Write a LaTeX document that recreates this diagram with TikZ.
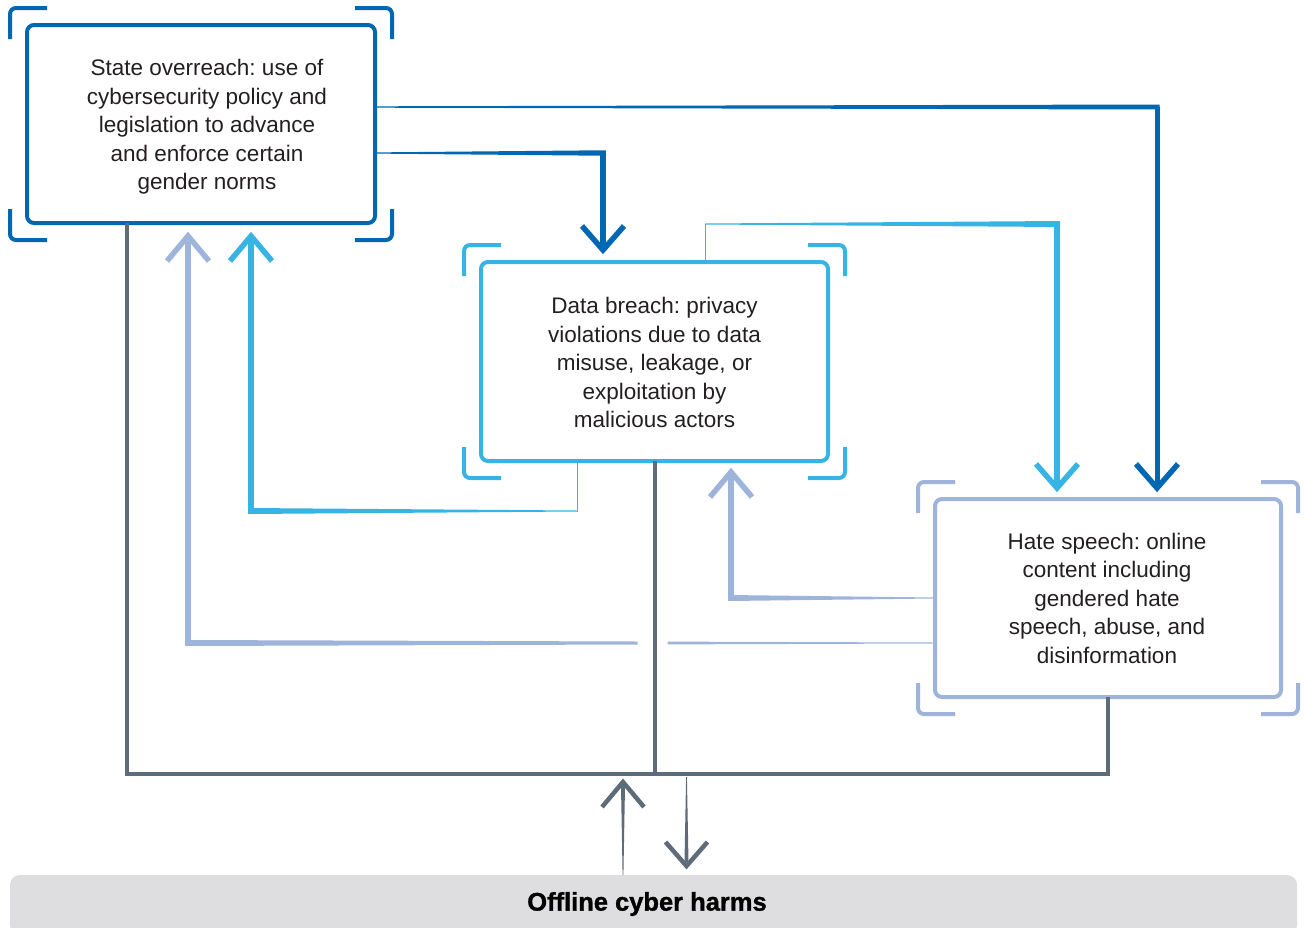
\documentclass[tikz,border=0pt]{standalone}
\usepackage{fontspec}
\setmainfont{Liberation Sans}
\newfontfamily\barfont{Liberation Sans}[BoldFeatures={FakeBold=1.2}]
\usetikzlibrary{calc}
\definecolor{dblue}{HTML}{0068B2}
\definecolor{lblue}{HTML}{38B4E4}
\definecolor{peri}{HTML}{9EB4DA}
\definecolor{slate}{HTML}{5E6B78}
\definecolor{barg}{HTML}{DEDEE0}
\definecolor{ink}{HTML}{231F20}
\frenchspacing
% tapered straight segment: colour, from, to, half width at from, half width at to
\newcommand\taper[5]{\fill[#1] ($(#2)!#4!90:(#3)$) -- ($(#2)!#4!-90:(#3)$) -- ($(#3)!#5!90:(#2)$) -- ($(#3)!#5!-90:(#2)$) -- cycle;}
\newcommand\chevD[3]{\draw[chev,#1,line width=#3] ($(#2)+(-21,-24)$) -- (#2) -- ($(#2)+(21,-24)$);}
\newcommand\chevU[3]{\draw[chev,#1,line width=#3] ($(#2)+(-21,25)$) -- (#2) -- ($(#2)+(21,25)$);}
\newcommand\brackets[2]{%
 \draw[brk,#2] ($(#1.north west)+(-17,14)$) -- ($(#1.north west)+(-17,-17)$) -- ($(#1.north west)+(20,-17)$);
 \draw[brk,#2] ($(#1.north east)+(-20,-17)$) -- ($(#1.north east)+(17,-17)$) -- ($(#1.north east)+(17,14)$);
 \draw[brk,#2] ($(#1.south west)+(-17,-14)$) -- ($(#1.south west)+(-17,17)$) -- ($(#1.south west)+(20,17)$);
 \draw[brk,#2] ($(#1.south east)+(-20,17)$) -- ($(#1.south east)+(17,17)$) -- ($(#1.south east)+(17,-14)$);}
\begin{document}
\begin{tikzpicture}[x=1pt,y=-1pt,
  cbox/.style={draw, rectangle, line width=4pt, rounded corners=7pt, inner sep=0pt, outer sep=0pt},
  txt/.style={align=center, font=\fontsize{22.5}{28.5}\selectfont\frenchspacing, text=ink, inner sep=0pt},
  brk/.style={line width=4pt, rounded corners=6pt},
  chev/.style={line join=miter, miter limit=10},
  tree/.style={slate, line width=4pt, line join=miter}]
\useasboundingbox (0,0) rectangle (1304,927);
\clip (0,0) rectangle (1304,927);

% boxes
\node[cbox, draw=dblue, minimum width=348pt, minimum height=198pt] (st) at (201,124) {};
\node[txt] (stT) at (207,127) {State overreach: use of\\cybersecurity policy and\\legislation to advance\\and enforce certain\\gender norms};
\brackets{st}{dblue}

\node[cbox, draw=lblue, minimum width=347pt, minimum height=199pt] (db) at (654.5,361.5) {};
\node[txt] (dbT) at (654.5,362.5) {Data breach: privacy\\violations due to data\\misuse, leakage, or\\exploitation by\\malicious actors};
\brackets{db}{lblue}

\node[cbox, draw=peri, minimum width=346pt, minimum height=198pt] (hs) at (1108,598) {};
\node[txt] (hsT) at (1107,598) {Hate speech: online\\content including\\gendered hate\\speech, abuse, and\\disinformation};
\brackets{hs}{peri}

\node[fill=barg, rounded corners=10pt, minimum width=1287pt, minimum height=60pt, inner sep=0pt, outer sep=0pt] (bar) at (653.5,905) {};
\node[font=\fontsize{25.5}{30}\barfont\bfseries, text=black, inner sep=0pt] (barT) at (647,904) {Offline cyber harms};

% grey tree
\coordinate (s0) at ($(st.south)+(-74,0)$);
\coordinate (s1) at ($(s0)+(0,551)$);
\coordinate (s2) at (hs.south |- s1);
\coordinate (sm) at (db.south |- s1);
\draw[tree] (s0) -- (s1) -- (s2) -- (hs.south);
\draw[tree] (db.south) -- (sm);

% A: state -> hate
\coordinate (a0) at ($(st.east)+(0,-17)$);
\coordinate (aT) at ($(hs.north)+(49,-11)$);
\coordinate (a1) at (aT |- a0);
\coordinate (a1x) at ($(a1)!-2.5pt!(a0)$);
\coordinate (aTs) at ($(aT)!4pt!(a1)$);
\taper{dblue}{a0}{a1x}{0.7pt}{2.5pt}
\draw[dblue, line width=5pt] (a1) -- (aTs);
\chevD{dblue}{aT}{5.5pt}

% B: state -> data
\coordinate (b0) at ($(st.east)+(0,29)$);
\coordinate (bT) at ($(db.north)+(-51.5,-12)$);
\coordinate (b1) at (bT |- b0);
\coordinate (b1x) at ($(b1)!-2.75pt!(b0)$);
\coordinate (bTs) at ($(bT)!4pt!(b1)$);
\taper{dblue}{b0}{b1x}{0.6pt}{2.75pt}
\draw[dblue, line width=5.5pt] (b1) -- (bTs);
\chevD{dblue}{bT}{5.5pt}

% C: data -> hate
\coordinate (c0) at ($(db.north)+(50.5,0)$);
\coordinate (c1) at ($(c0)+(0,-38)$);
\coordinate (cT) at ($(hs.north)+(-51,-11)$);
\coordinate (c2) at (cT |- c1);
\coordinate (c2x) at ($(c2)!-3pt!(c1)$);
\coordinate (cTs) at ($(cT)!4pt!(c2)$);
\draw[lblue, line width=1pt, line cap=rect] (c0) -- (c1);
\taper{lblue}{c1}{c2x}{0.5pt}{3pt}
\draw[lblue, line width=6pt] (c2) -- (cTs);
\chevD{lblue}{cT}{5.5pt}

% D: data -> state
\coordinate (d0) at ($(db.south)+(-77.5,0)$);
\coordinate (d1) at ($(d0)+(0,50)$);
\coordinate (dT) at ($(st.south)+(50,13)$);
\coordinate (d2) at (dT |- d1);
\coordinate (d2x) at ($(d2)!-3pt!(d1)$);
\coordinate (dTs) at ($(dT)!4pt!(d2)$);
\draw[lblue, line width=1pt, line cap=rect] (d0) -- (d1);
\taper{lblue}{d1}{d2x}{0.5pt}{3pt}
\draw[lblue, line width=6pt] (d2) -- (dTs);
\chevU{lblue}{dT}{5.5pt}

% E: hate -> state (gap at grey line)
\coordinate (e0) at ($(hs.west)+(0,45)$);
\coordinate (eT) at ($(st.south)+(-13,13)$);
\coordinate (e1) at (eT |- e0);
\coordinate (e1x) at ($(e1)!-3pt!(e0)$);
\coordinate (em) at (db.south |- e0);
\coordinate (ga) at ($(em)+(13,0)$);
\coordinate (gb) at ($(em)+(-17,0)$);
\coordinate (eTs) at ($(eT)!4pt!(e1)$);
\taper{peri}{e0}{ga}{0.5pt}{1.4pt}
\taper{peri}{gb}{e1x}{1.5pt}{3pt}
\draw[peri, line width=6pt] (e1) -- (eTs);
\chevU{peri}{eT}{5.5pt}

% F: hate -> data
\coordinate (f0) at (hs.west);
\coordinate (fT) at ($(db.south)+(76.5,11)$);
\coordinate (f1) at (fT |- f0);
\coordinate (f1x) at ($(f1)!-3pt!(f0)$);
\coordinate (fTs) at ($(fT)!4pt!(f1)$);
\taper{peri}{f0}{f1x}{0.5pt}{3pt}
\draw[peri, line width=6pt] (f1) -- (fTs);
\chevU{peri}{fT}{5.5pt}

% grey arrows to/from offline harms
\coordinate (u0) at ($(bar.north)+(-30.5,0)$);
\coordinate (uT) at ($(s1 -| u0)+(0,8)$);
\coordinate (uTs) at ($(uT)!4pt!(u0)$);
\taper{slate}{u0}{uTs}{0.4pt}{2pt}
\chevU{slate}{uT}{4.5pt}

\coordinate (v0) at ($(sm)+(32,3)$);
\coordinate (vT) at ($(v0 |- bar.north)+(0,-9)$);
\coordinate (vTs) at ($(vT)!4pt!(v0)$);
\taper{slate}{v0}{vTs}{0.4pt}{2pt}
\chevD{slate}{vT}{4.5pt}
\end{tikzpicture}
\end{document}
